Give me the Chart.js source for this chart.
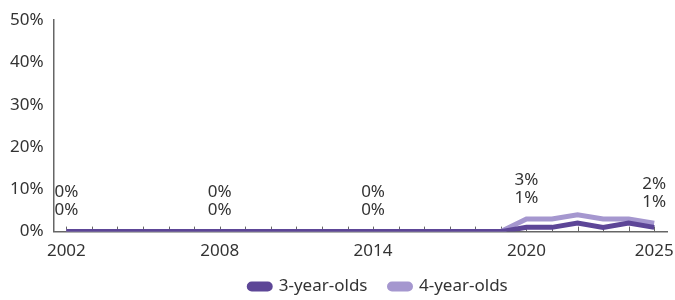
<!DOCTYPE html>
<html>
<head>
<meta charset="utf-8">
<script src="https://cdn.jsdelivr.net/npm/chart.js@4/dist/chart.umd.min.js"></script>
<style>
  html, body { margin: 0; padding: 0; background: #fff; }
  #wrap { width: 675px; height: 300px; }
</style>
</head>
<body>
<div id="wrap"><canvas id="chart"></canvas></div>
<script>
const years = [
  "2002", "2003", "2004", "2005", "2006", "2007", "2008", "2009",
  "2010", "2011", "2012", "2013", "2014", "2015", "2016", "2017",
  "2018", "2019", "2020", "2021", "2022", "2023", "2024", "2025",
];
const threeYearOlds = [0, 0, 0, 0, 0, 0, 0, 0, 0, 0, 0, 0, 0, 0, 0, 0, 0, 0, 1, 1, 2, 1, 2, 1];
const fourYearOlds = [0, 0, 0, 0, 0, 0, 0, 0, 0, 0, 0, 0, 0, 0, 0, 0, 0, 0, 3, 3, 4, 3, 3, 2];
const shownYears = ["2002", "2008", "2014", "2020", "2025"];

const DARK_PURPLE = "#5d4697";
const LIGHT_PURPLE = "#a597cf";
const TEXT_COLOR = "#333333";
const AXIS_COLOR = "#666666";
const FONT = "'Noto Sans', sans-serif";
const FONT_SIZE = 17;

// small tick marks pointing up into the plot
const tickMarks = {
  id: "tickMarks",
  beforeDatasetsDraw(chart) {
    const ctx = chart.ctx;
    const x = chart.scales.x;
    const bottom = chart.chartArea.bottom;
    ctx.save();
    ctx.strokeStyle = AXIS_COLOR;
    ctx.lineWidth = 1;
    years.forEach((y, i) => {
      const px = Math.round(x.getPixelForValue(i)) + 0.5;
      ctx.beginPath();
      ctx.moveTo(px, bottom);
      ctx.lineTo(px, bottom - 5);
      ctx.stroke();
    });
    ctx.restore();
  },
};

// stacked value labels: 4-year-olds on top, 3-year-olds below
const valueLabels = {
  id: "valueLabels",
  afterDatasetsDraw(chart) {
    const ctx = chart.ctx;
    const x = chart.scales.x;
    const y = chart.scales.y;
    ctx.save();
    ctx.font = FONT_SIZE + "px " + FONT;
    ctx.fillStyle = TEXT_COLOR;
    ctx.textAlign = "center";
    ctx.textBaseline = "middle";
    years.forEach((yr, i) => {
      if (!shownYears.includes(yr)) return;
      const px = x.getPixelForValue(i);
      const top = y.getPixelForValue(Math.max(fourYearOlds[i], threeYearOlds[i]));
      ctx.fillText(fourYearOlds[i] + "%", px, top - 39);
      ctx.fillText(threeYearOlds[i] + "%", px, top - 21);
    });
    ctx.restore();
  },
};

// legend: wide gap between items, short box, nudged like the reference
const legendShift = {
  id: "legendShift",
  afterLayout(chart) {
    chart.legend.left += 45;
    chart.legend.right += 45;
    chart.legend.top -= 14;
  },
};

new Chart(document.getElementById("chart"), {
  type: "line",
  plugins: [tickMarks, valueLabels, legendShift],
  data: {
    labels: years,
    datasets: [
      {
        label: "3-year-olds",
        data: threeYearOlds,
        borderColor: DARK_PURPLE,
        backgroundColor: DARK_PURPLE,
        borderWidth: 5,
        pointRadius: 0,
        tension: 0,
        order: 1,
      },
      {
        label: "4-year-olds",
        data: fourYearOlds,
        borderColor: LIGHT_PURPLE,
        backgroundColor: LIGHT_PURPLE,
        borderWidth: 5,
        pointRadius: 0,
        tension: 0,
        order: 2,
      },
    ],
  },
  options: {
    responsive: true,
    maintainAspectRatio: false,
    animation: false,
    layout: { padding: { top: 0, right: 8, left: 0, bottom: 0 } },
    scales: {
      x: {
        offset: true,
        grid: { display: false, drawTicks: false },
        border: { display: true, color: AXIS_COLOR, width: 1.5 },
        afterFit: (scale) => {
          scale.paddingLeft = 0;
          scale.paddingRight = 0;
        },
        ticks: {
          autoSkip: false,
          maxRotation: 0,
          padding: 9,
          color: TEXT_COLOR,
          font: { family: FONT, size: FONT_SIZE },
          callback: function (val) {
            const l = this.getLabelForValue(val);
            return shownYears.includes(l) ? l : "";
          },
        },
      },
      y: {
        min: 0,
        max: 50,
        grid: { display: false, drawTicks: false },
        border: { display: true, color: AXIS_COLOR, width: 1.5 },
        ticks: {
          stepSize: 10,
          padding: 10,
          color: TEXT_COLOR,
          font: { family: FONT, size: FONT_SIZE },
          callback: (v) => v + "%",
        },
      },
    },
    plugins: {
      legend: {
        position: "bottom",
        maxHeight: 30,
        labels: {
          color: TEXT_COLOR,
          font: { family: FONT, size: FONT_SIZE },
          boxWidth: 21,
          boxHeight: 5,
          useBorderRadius: true,
          borderRadius: 2.5,
          padding: 22,
        },
      },
      tooltip: { enabled: false },
    },
  },
});
</script>
</body>
</html>
